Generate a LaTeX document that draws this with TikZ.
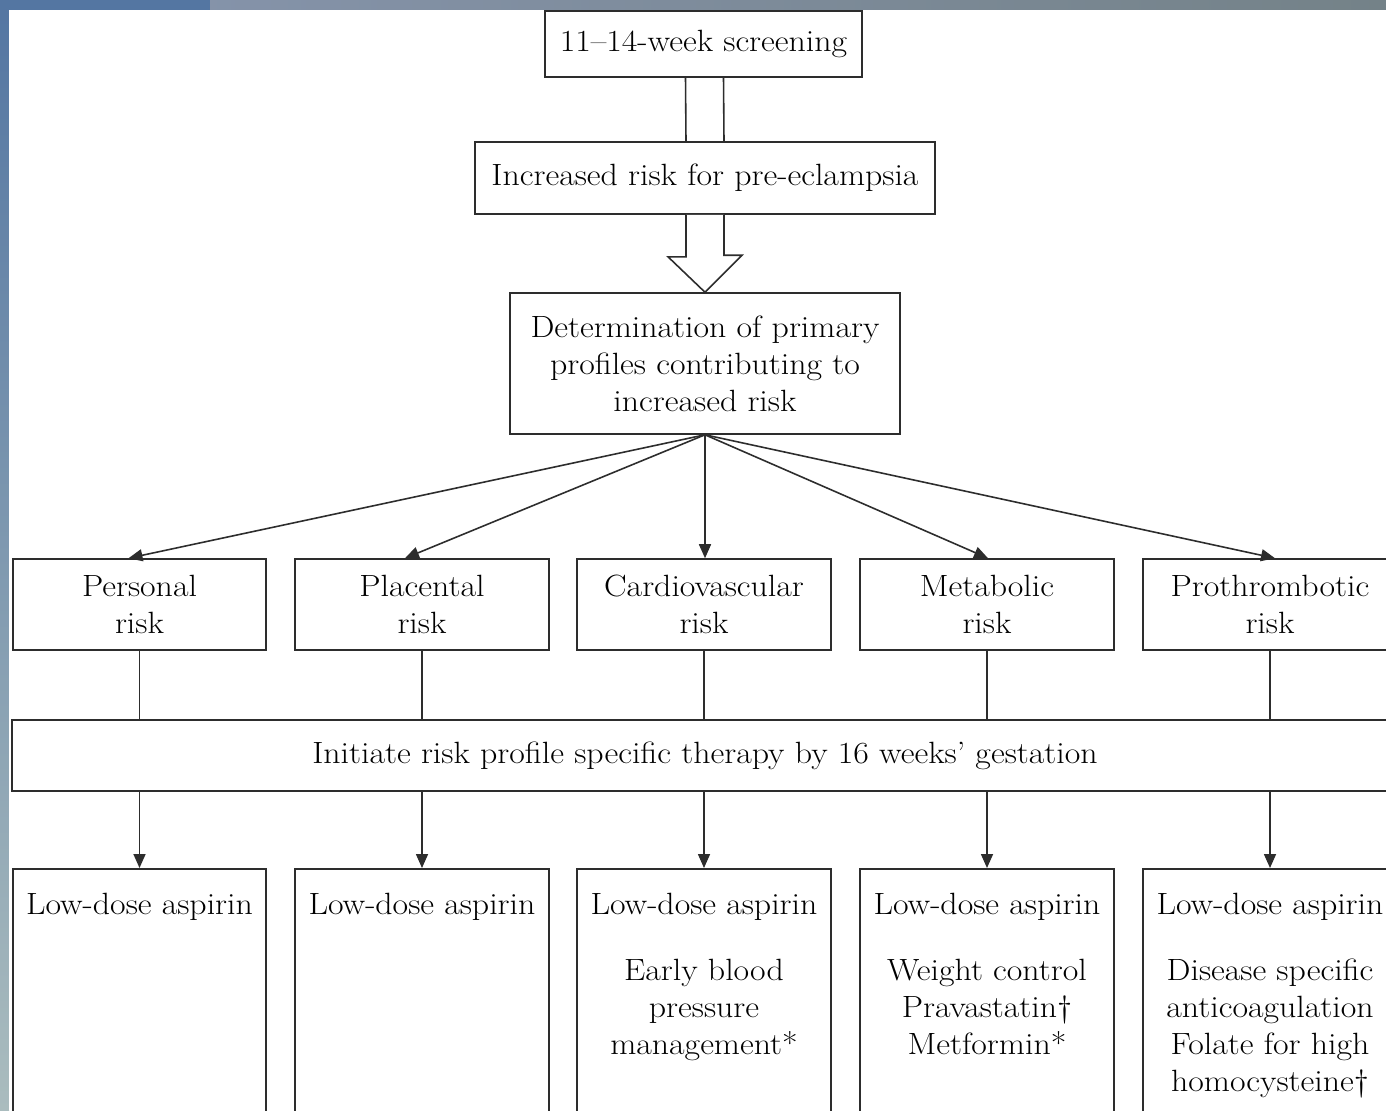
\documentclass[tikz,border=0pt]{standalone}
\usepackage{fontspec}
\setmainfont{Latin Modern Roman}[FakeStretch=1.1]
\usepackage{tikz}
\usetikzlibrary{arrows.meta,positioning,calc}

\definecolor{stripblue}{RGB}{84,118,162}
\definecolor{stripsage}{RGB}{170,188,190}
\definecolor{stripgrey}{RGB}{138,150,170}
\definecolor{stripslate}{RGB}{116,130,136}
\definecolor{inkgrey}{RGB}{45,45,45}

\begin{document}
\begin{tikzpicture}[
  x=0.02cm, y=-0.02cm,
  font=\fontsize{17.5}{21}\selectfont,
  box/.style={draw=inkgrey, line width=0.9pt, fill=white, align=center,
              inner sep=0pt},
  riskbox/.style={box, minimum width=5.07cm, minimum height=1.82cm},
  therbox/.style={box, anchor=north, minimum width=5.07cm, minimum height=6cm},
  thertext/.style={align=center, inner sep=0pt, anchor=north},
  link/.style={draw=inkgrey, line width=0.9pt},
  arr/.style={link, -{Triangle[length=0.28cm, width=0.24cm]}},
]
\useasboundingbox (0,0) rectangle (1386,1110);
\clip (0,0) rectangle (1386,1110);

% frame of the slide
\shade[top color=stripblue, bottom color=stripsage] (0,0) rectangle (9,1110);
\fill[stripblue] (0,0) rectangle (210,10);
\shade[left color=stripgrey!90!stripblue, right color=stripslate] (210,0) rectangle (1386,10);
\fill[white] (9,10) rectangle (1386,1110);

% screening and overall risk
\node[box, minimum width=6.34cm, minimum height=1.32cm] (screen) at (703.5,44)
  {11–14-week screening};
\node[box, minimum width=9.2cm, minimum height=1.44cm] (incr) at (705,178)
  {Increased risk for pre-eclampsia};
\node[box, minimum width=7.8cm, minimum height=2.82cm] (det) at (705,363.5)
  {Determination of primary\\profiles contributing to\\increased risk};

\draw[link] ($(screen.south)+(-18,0)$) -- ($(incr.north)+(-19,0)$);
\draw[link] ($(screen.south)+(20,0)$) -- ($(incr.north)+(19,0)$);

% hollow arrow
\draw[link, fill=white] ($(incr.south)+(-19,0)$) -- ++(0,42) -- ++(-18,0)
  -- (det.north) -- ++(37,-37) -- ++(-18,0) -- ($(incr.south)+(19,0)$);

% risk profiles
\node[riskbox] (pers) at (139.5,604.5) {Personal\\risk};
\node[riskbox] (plac) at (422,604.5) {Placental\\risk};
\node[riskbox] (card) at (704,604.5) {Cardiovascular\\risk};
\node[riskbox] (meta) at (987,604.5) {Metabolic\\risk};
\node[riskbox] (prot) at (1270,604.5) {Prothrombotic\\risk};

\draw[arr] (det.south) -- ([xshift=-0.22cm]pers.north);
\draw[arr] (det.south) -- ([xshift=-0.34cm]plac.north);
\draw[arr] (det.south) -- ([xshift=0.02cm]card.north);
\draw[arr] (det.south) -- ([xshift=0.02cm]meta.north);
\draw[arr] (det.south) -- ([xshift=0.1cm]prot.north);

% therapy bar
\node[box, minimum width=27.72cm, minimum height=1.42cm] (init) at (705,755.5)
  {Initiate risk profile specific therapy by 16 weeks’ gestation};

\foreach \r in {pers,plac,card,meta,prot}
  \draw[link] (\r.south) -- (\r.south |- init.north);

% therapies
\node[therbox] (tpers) at (139.5,868) {};
\node[therbox] (tplac) at (422,868) {};
\node[therbox] (tcard) at (704,868) {};
\node[therbox] (tmeta) at (987,868) {};
\node[therbox] (tprot) at (1270,868) {};

\foreach \t in {tpers,tplac,tcard,tmeta,tprot}
  \draw[arr] (\t.north |- init.south) -- (\t.north);

\node[thertext, below=0.5cm of tpers.north] (xpers) {Low-dose aspirin};
\node[thertext, below=0.5cm of tplac.north] (xplac) {Low-dose aspirin};
\node[thertext, below=0.5cm of tcard.north] (xcard)
  {Low-dose aspirin\\[0.58cm]Early blood\\pressure\\management*};
\node[thertext, below=0.5cm of tmeta.north] (xmeta)
  {Low-dose aspirin\\[0.58cm]Weight control\\Pravastatin†\\Metformin*};
\node[thertext, below=0.5cm of tprot.north] (xprot)
  {Low-dose aspirin\\[0.58cm]Disease specific\\anticoagulation\\Folate for high\\homocysteine†};
\end{tikzpicture}
\end{document}
